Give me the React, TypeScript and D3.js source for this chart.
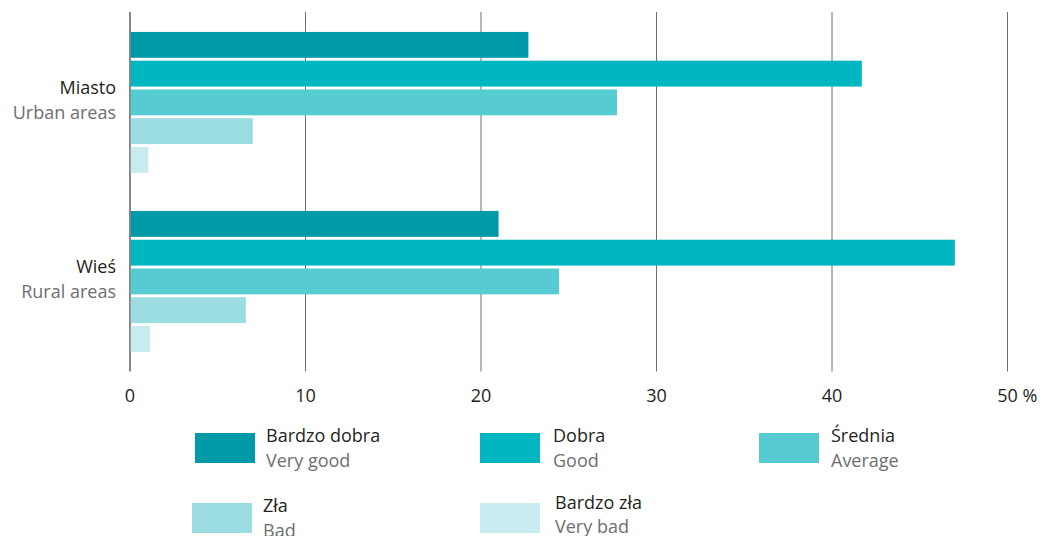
import React from "react";
import * as d3 from "d3";

const categories = ["Miasto", "Wieś"];
const categoriesEn = ["Urban areas", "Rural areas"];
const seriesPl = ["Bardzo dobra", "Dobra", "Średnia", "Zła", "Bardzo zła"];
const seriesEn = ["Very good", "Good", "Average", "Bad", "Very bad"];
const colors = ["#0099a8", "#00b6c0", "#56cbd1", "#9cdde2", "#c7ebee"];

// percentages, one row per category, one value per series
const urbanValues = [22.7, 41.7, 27.75, 7.0, 1.05];
const ruralValues = [21.0, 47.0, 24.45, 6.6, 1.15];
const values = [urbanValues, ruralValues];

const ticks = [0, 10, 20, 30, 40, 50];

const width = 1044;
const height = 536;
const font = "'Open Sans', 'Noto Sans', sans-serif";
const fs = 18;
const dark = "#231f20";
const grey = "#6d6e71";

// legend slots (layout only)
const legendPos = [
  { x: 195, y: 433, tx: 71, b1: 442, b2: 467 },
  { x: 480, y: 433, tx: 73, b1: 442, b2: 467 },
  { x: 759, y: 433, tx: 72, b1: 442, b2: 467 },
  { x: 192, y: 503, tx: 71, b1: 512, b2: 537 },
  { x: 480, y: 503, tx: 75, b1: 509, b2: 533 },
];

export default function App() {
  const x = d3.scaleLinear().domain([0, 50]).range([130, 1007.5]);

  const y0 = d3
    .scaleBand<string>()
    .domain(categories)
    .range([30.5, 353.3])
    .paddingInner(0.197)
    .paddingOuter(0);

  const y1 = d3
    .scaleBand<string>()
    .domain(seriesPl)
    .range([0, y0.bandwidth()])
    .paddingInner(0.1)
    .paddingOuter(0.05);

  return (
    <svg
      width={width}
      height={height}
      style={{ position: "absolute", left: 0, top: 0, fontFamily: font }}
    >
      {/* grid */}
      {ticks.map((t) => (
        <line
          key={t}
          x1={x(t)}
          x2={x(t)}
          y1={12}
          y2={371.5}
          stroke={t === 0 ? "#555" : "#6f6f6f"}
          strokeWidth={t === 0 ? 1.4 : 1}
        />
      ))}

      {/* bars */}
      {categories.map((c, ci) => (
        <g key={c} transform={`translate(0,${y0(c)})`}>
          {seriesPl.map((s, si) => (
            <rect
              key={s}
              x={x(0) + 0.7}
              y={y1(s)}
              width={x(values[ci][si]) - x(0) - 0.7}
              height={y1.bandwidth()}
              fill={colors[si]}
            />
          ))}
        </g>
      ))}

      {/* category labels */}
      {categories.map((c, ci) => {
        const cy = (y0(c) as number) + y0.bandwidth() / 2;
        return (
          <g key={c}>
            <text x={116} y={cy - 8.4} textAnchor="end" fontSize={fs} fill={dark}>
              {c}
            </text>
            <text x={116} y={cy + 16.8} textAnchor="end" fontSize={fs} fill={grey}>
              {categoriesEn[ci]}
            </text>
          </g>
        );
      })}

      {/* x tick labels */}
      {ticks.map((t) => (
        <text key={t} x={x(t)} y={402} textAnchor="middle" fontSize={fs} fill={dark}>
          {t}
        </text>
      ))}
      <text x={x(50) + 15} y={402} fontSize={fs} fill={dark}>
        %
      </text>

      {/* legend */}
      {seriesPl.map((s, i) => {
        const p = legendPos[i];
        return (
          <g key={s}>
            <rect x={p.x} y={p.y} width={60} height={30} fill={colors[i]} />
            <text x={p.x + p.tx} y={p.b1} fontSize={fs} fill={dark}>
              {s}
            </text>
            <text x={p.x + p.tx} y={p.b2} fontSize={fs} fill={grey}>
              {seriesEn[i]}
            </text>
          </g>
        );
      })}
    </svg>
  );
}
